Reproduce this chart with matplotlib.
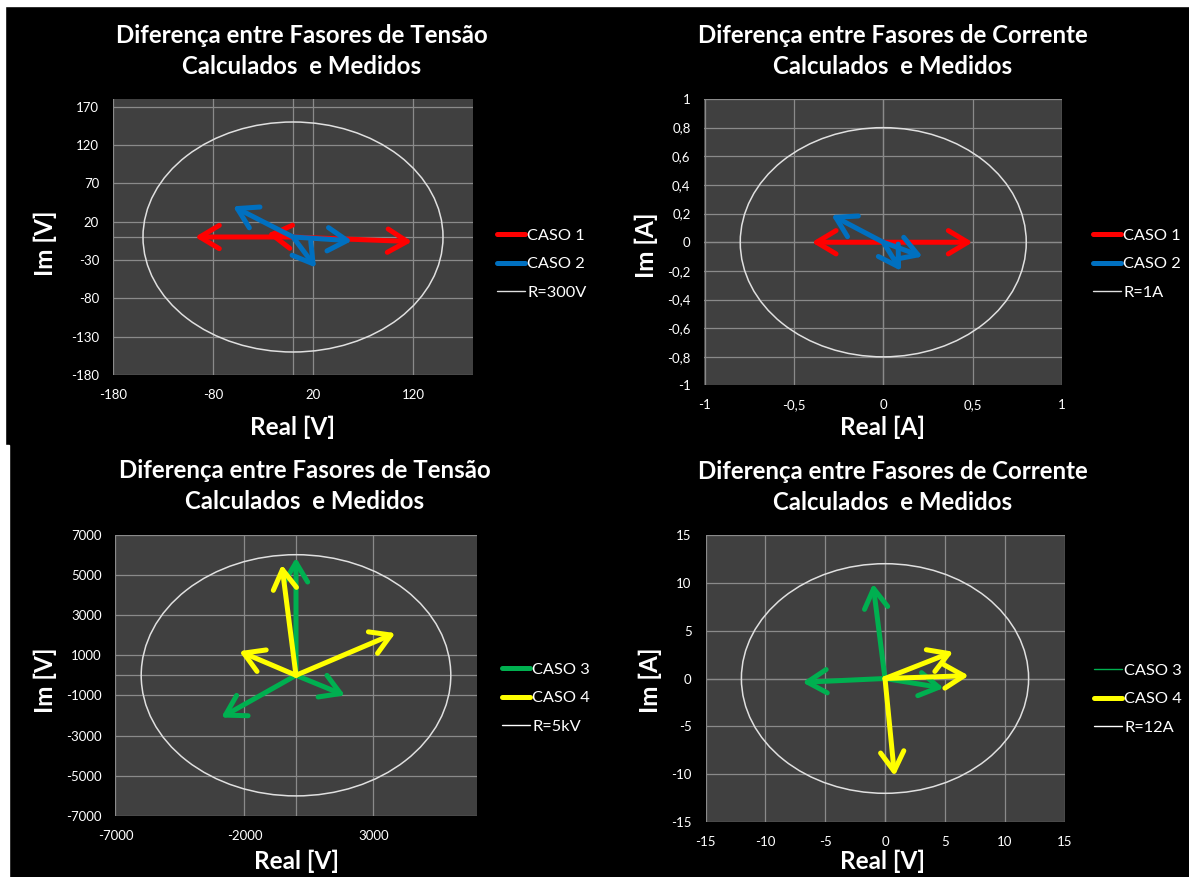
import numpy as np
import matplotlib
matplotlib.use('Agg')
import matplotlib.pyplot as plt
from matplotlib.lines import Line2D
from matplotlib.patches import Circle, Rectangle

plt.rcParams['font.family'] = ['Lato', 'DejaVu Sans']
plt.rcParams['axes.unicode_minus'] = False

W, H = 1189, 877

# Titulos
titulo_tensao = 'Diferença entre Fasores de Tensão\nCalculados  e Medidos'
titulo_corrente = 'Diferença entre Fasores de Corrente\nCalculados  e Medidos'

# Painel 1 - tensao, casos 1 e 2
caso1_v = [(-98, 0), (119, -6), (-26, 4)]
caso2_v = [(-60, 40), (59, -5), (23, -40)]
raio_v12 = 150
xticks_v12 = [-180, -80, 20, 120]
yticks_v12 = [-180, -130, -80, -30, 20, 70, 120, 170]

# Painel 2 - corrente, casos 1 e 2
caso1_i = [(-0.40, 0.0), (0.50, 0.0)]
caso2_i = [(-0.29, 0.19), (0.22, -0.10), (0.10, -0.20)]
raio_i12 = 0.8
xticks_i12 = [-1, -0.5, 0, 0.5, 1]
xlabels_i12 = ['-1', '-0,5', '0', '0,5', '1']
yticks_i12 = [-1, -0.8, -0.6, -0.4, -0.2, 0, 0.2, 0.4, 0.6, 0.8, 1]
ylabels_i12 = ['-1', '-0,8', '-0,6', '-0,4', '-0,2', '0', '0,2', '0,4', '0,6', '0,8', '1']

# Painel 3 - tensao, casos 3 e 4
caso3_v = [(0, 5850), (1900, -1000), (-2900, -2100)]
caso4_v = [(-550, 5500), (-2200, 1200), (3850, 2100)]
raio_v34 = 6000
xticks_v34 = [-7000, -2000, 3000]
yticks_v34 = [-7000, -5000, -3000, -1000, 1000, 3000, 5000, 7000]

# Painel 4 - corrente, casos 3 e 4
caso3_i = [(-1.0, 9.9), (-6.9, -0.4), (4.9, -1.0)]
caso4_i = [(5.7, 2.8), (7.0, 0.3), (0.8, -10.2)]
raio_i34 = 12
ticks_i34 = [-15, -10, -5, 0, 5, 10, 15]

# Cores
VERMELHO = '#ff0000'
AZUL = '#0070c0'
VERDE = '#00b050'
AMARELO = '#ffff00'
FUNDO = '#404040'
GRADE = '#8a8a8a'


def caixa(l, t, r, b):
    # converte pixels (a partir do topo) para fracao da figura
    return [l / W, 1 - b / H, (r - l) / W, (b - t) / H]


def setas(ax, vetores, cor, lw=3.6):
    for (x, y) in vetores:
        ax.annotate('', xy=(x, y), xytext=(0, 0),
                    arrowprops=dict(arrowstyle='->,head_length=0.7,head_width=0.42',
                                    color=cor, lw=lw, shrinkA=0, shrinkB=0,
                                    mutation_scale=20, capstyle='round',
                                    joinstyle='round'), zorder=5)


def painel(ax, lim_x, lim_y, xt, yt, xl=None, yl=None, raio=1):
    ax.set_facecolor(FUNDO)
    ax.set_xlim(lim_x)
    ax.set_ylim(lim_y)
    ax.set_xticks(xt)
    ax.set_yticks(yt)
    if xl is not None:
        ax.set_xticklabels(xl)
    if yl is not None:
        ax.set_yticklabels(yl)
    ax.grid(True, color=GRADE, lw=0.9, zorder=1)
    ax.axhline(0, color=GRADE, lw=0.9, zorder=1)
    ax.axvline(0, color=GRADE, lw=0.9, zorder=1)
    ax.set_axisbelow(True)
    for s in ax.spines.values():
        s.set_visible(False)
    ax.tick_params(length=0, colors='white', labelsize=9.5, pad=10)
    ax.add_patch(Circle((0, 0), raio, fill=False, ec='#e0e0e0', lw=1.1, zorder=3))


fig = plt.figure(figsize=(W / 100, H / 100), dpi=100)
fig.patch.set_facecolor('black')
# faixas brancas das bordas
fig.patches.append(Rectangle((0, 1 - 6 / H), 1, 6 / H, transform=fig.transFigure,
                             color='white', zorder=0))
fig.patches.append(Rectangle((0, 0), 5 / W, 1, transform=fig.transFigure,
                             color='white', zorder=0))
fig.patches.append(Rectangle((0, 0), 9 / W, 1 - 445 / H, transform=fig.transFigure,
                             color='white', zorder=0))

ax1 = fig.add_axes(caixa(113, 99, 473, 375))
ax2 = fig.add_axes(caixa(704.5, 99, 1062, 385.5))
ax3 = fig.add_axes(caixa(115.4, 534.6, 476.6, 816))
ax4 = fig.add_axes(caixa(705.5, 535, 1064.5, 822))

painel(ax1, (-180, 180), (-180, 180), xticks_v12, yticks_v12, raio=raio_v12)
setas(ax1, caso1_v, VERMELHO)
setas(ax1, caso2_v, AZUL)

painel(ax2, (-1, 1), (-1, 1), xticks_i12, yticks_i12, xlabels_i12, ylabels_i12, raio=raio_i12)
setas(ax2, caso1_i, VERMELHO)
setas(ax2, caso2_i, AZUL)

painel(ax3, (-7000, 7000), (-7000, 7000), xticks_v34, yticks_v34, raio=raio_v34)
setas(ax3, caso3_v, VERDE)
setas(ax3, caso4_v, AMARELO)

painel(ax4, (-15, 15), (-15, 15), ticks_i34, ticks_i34, raio=raio_i34)
setas(ax4, caso3_i, VERDE)
setas(ax4, caso4_i, AMARELO)

# Titulos e rotulos dos eixos
tit = dict(color='white', fontsize=17.3, fontweight='bold', ha='center', va='center',
           linespacing=1.42)
fig.text(302 / W, 1 - 51 / H, titulo_tensao, **tit)
fig.text(893 / W, 1 - 51 / H, titulo_corrente, **tit)
fig.text(305 / W, 1 - 486 / H, titulo_tensao, **tit)
fig.text(893 / W, 1 - 487 / H, titulo_corrente, **tit)

rot = dict(color='white', fontsize=17.5, fontweight='bold', ha='center', va='center')
fig.text(45 / W, 1 - 243 / H, 'Im [V]', rotation=90, **rot)
fig.text(293 / W, 1 - 427 / H, 'Real [V]', **rot)
fig.text(646 / W, 1 - 245 / H, 'Im [A]', rotation=90, **rot)
fig.text(883 / W, 1 - 427 / H, 'Real [A]', **rot)
fig.text(45 / W, 1 - 680 / H, 'Im [V]', rotation=90, **rot)
fig.text(296 / W, 1 - 861 / H, 'Real [V]', **rot)
fig.text(650 / W, 1 - 680 / H, 'Im [A]', rotation=90, **rot)
fig.text(883 / W, 1 - 861 / H, 'Real [V]', **rot)


def legenda(ax, itens, x, y):
    handles = [Line2D([], [], color=c, lw=l, solid_capstyle='round') for (_, c, l) in itens]
    labels = [t for (t, _, _) in itens]
    ax.legend(handles, labels, loc='center left', bbox_to_anchor=(x / W, 1 - y / H),
              bbox_transform=fig.transFigure, frameon=False, fontsize=11.8,
              labelcolor='white', handlelength=1.7, handletextpad=0.15,
              labelspacing=0.85, borderpad=0, borderaxespad=0)


legenda(ax1, [('CASO 1', VERMELHO, 3.6), ('CASO 2', AZUL, 3.6), ('R=300V', '#e0e0e0', 1)], 497, 264)
legenda(ax2, [('CASO 1', VERMELHO, 3.6), ('CASO 2', AZUL, 3.6), ('R=1A', '#e0e0e0', 1)], 1093, 264)
legenda(ax3, [('CASO 3', VERDE, 3.6), ('CASO 4', AMARELO, 3.6), ('R=5kV', '#ffffff', 1)], 502, 698)
legenda(ax4, [('CASO 3', VERDE, 1), ('CASO 4', AMARELO, 3.6), ('R=12A', '#ffffff', 1)], 1094, 699)

fig.savefig('out.png', dpi=100, facecolor=fig.get_facecolor())
